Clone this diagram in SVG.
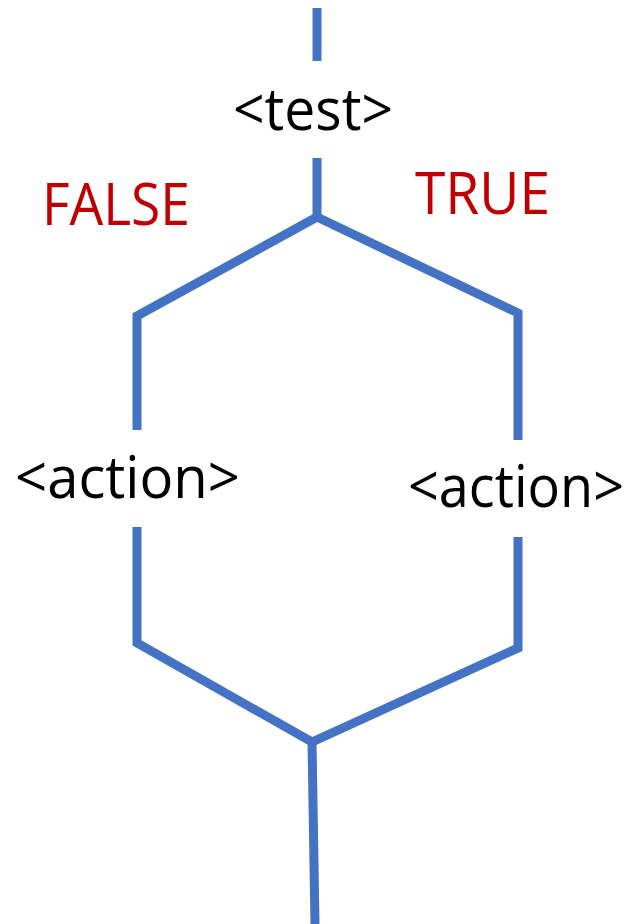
<svg xmlns="http://www.w3.org/2000/svg" width="638" height="924" viewBox="0 0 638 924">
<style>
.ln{fill:none;stroke:#4472C4;stroke-width:9;stroke-linejoin:miter;stroke-linecap:butt}
.t{font-family:"Open Sans","Liberation Sans",sans-serif;font-size:58px;fill:#000}
.r{fill:#C00000}
</style>
<rect width="638" height="924" fill="#fff"/>
<g id="connectors">
<path class="ln" d="M317,8 V61"/>
<path class="ln" d="M317,158 V217 L137,316 V430"/>
<path class="ln" d="M317,217 L518,313 V440"/>
<path class="ln" d="M137,527 V643 L312,742 L518,648 V537"/>
<path class="ln" d="M312,742 L315,924"/>
</g>
<g id="test"><text class="t" x="233" y="130" textLength="160" lengthAdjust="spacingAndGlyphs">&lt;test&gt;</text></g>
<g id="false"><text class="t r" x="42" y="225" textLength="148" lengthAdjust="spacingAndGlyphs">FALSE</text></g>
<g id="true"><text class="t r" x="415" y="214" textLength="135" lengthAdjust="spacingAndGlyphs">TRUE</text></g>
<g id="action-left"><text class="t" x="15" y="498" textLength="225" lengthAdjust="spacingAndGlyphs">&lt;action&gt;</text></g>
<g id="action-right"><text class="t" x="408" y="507" font-size="54" textLength="216" lengthAdjust="spacingAndGlyphs">&lt;action&gt;</text></g>
</svg>
